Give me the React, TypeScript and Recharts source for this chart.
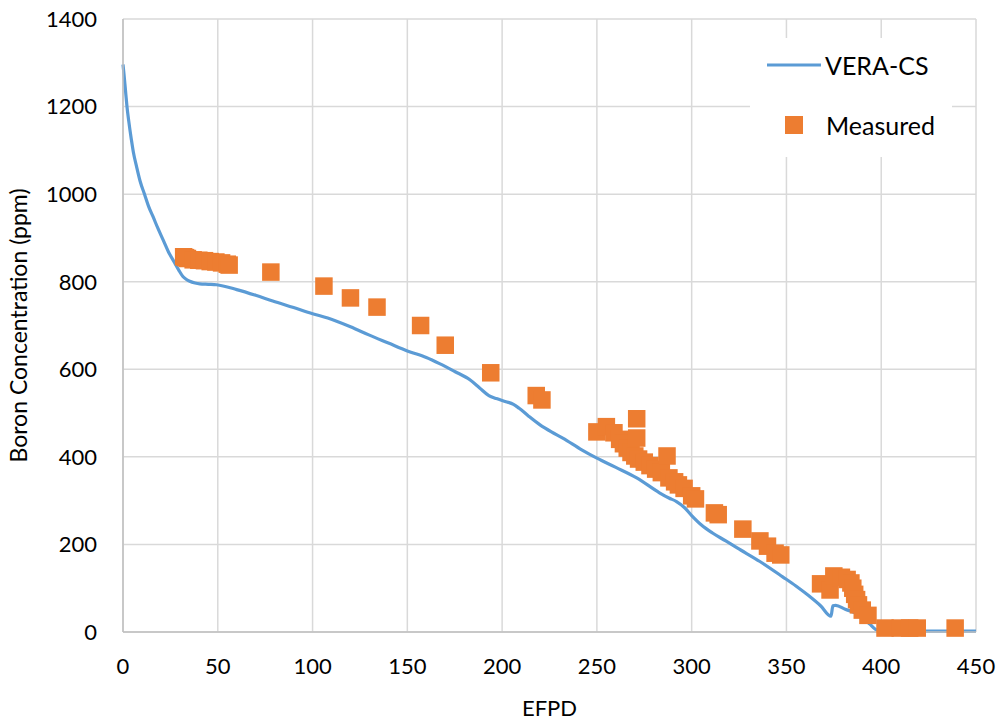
import React from "react";
import {
  ComposedChart,
  Line,
  Scatter,
  XAxis,
  YAxis,
  CartesianGrid,
  Legend,
} from "recharts";

const X_TICKS = [0, 50, 100, 150, 200, 250, 300, 350, 400, 450];
const Y_TICKS = [0, 200, 400, 600, 800, 1000, 1200, 1400];

// VERA-CS predicted boron letdown curve
const veraEfpd = [
  0, 0.5, 1, 1.5, 2.1, 3, 4.4, 5.5, 7.1, 9, 11.4, 13.5, 15.8, 18.5, 21.1, 24,
  27.3, 29.5, 31.6, 33.5, 35.2, 38, 40.5, 45, 49.3, 60, 70, 79, 90, 100, 108, 120,
  130, 140, 150, 160, 167, 175, 183, 188, 193, 197, 202, 206, 209, 214, 220, 226,
  232, 242, 250, 260, 271, 283, 288, 292, 296, 300, 305, 311, 318, 324, 336, 348,
  355, 362, 368, 373.5, 374.5, 376, 381, 387, 390, 394, 397, 400, 420, 450,
];
const veraBoron = [
  1296, 1275, 1252, 1228, 1200, 1168, 1125, 1095, 1064, 1030, 999, 972, 949, 921,
  896, 868, 843, 826, 812, 805, 801, 797, 795, 794, 793, 782, 769, 756, 741, 727,
  717, 697, 678, 660, 642, 627, 613, 595, 576, 558, 540, 533, 526, 520, 511, 493,
  473, 457, 443, 416, 397, 376, 352, 318, 306, 298, 285, 266, 245, 226, 208, 192,
  161, 126, 105, 82, 60, 36, 60, 61, 52, 42, 33, 18, 6, 2, 2, 2,
];

// Measured critical boron concentration
const measuredEfpd = [
  32, 33, 34, 37, 40, 43, 46, 49, 52, 55, 56, 78, 106, 120, 134, 157, 170, 194,
  218, 221, 250, 255, 259, 262, 264, 266, 268, 270, 271, 271, 272, 275, 278, 281,
  284, 287, 288, 291, 293, 296, 300, 302, 312, 314, 327, 336, 340, 344, 347, 368,
  373, 375, 379, 382, 384, 385, 386, 387, 388, 390, 393, 402, 410, 415, 419, 439,
];
const measuredBoron = [
  857, 855, 853, 850, 849, 848, 846, 845, 843, 840, 838, 822, 790, 763, 742, 700,
  655, 592, 540, 530, 457, 469, 455, 440, 430, 420, 410, 402, 487, 443, 395, 388,
  380, 372, 364, 402, 352, 343, 336, 328, 311, 304, 272, 268, 235, 208, 196, 180,
  176, 110, 96, 128, 125, 120, 112, 100, 86, 74, 62, 50, 38, 9, 9, 9, 9, 9,
];

const veraData = veraEfpd.map((x, i) => ({ x, y: veraBoron[i] }));
const measuredData = measuredEfpd.map((x, i) => ({ x, y: measuredBoron[i] }));

const LINE_COLOR = "#5B9BD5";
const MARKER_COLOR = "#ED7D31";
const FONT = "Lato, 'Open Sans', sans-serif";

const SquareMarker = (props: { cx?: number; cy?: number }) => {
  const { cx, cy } = props;
  if (cx == null || cy == null) return null;
  return (
    <rect x={cx - 8.75} y={cy - 8.75} width={17.5} height={17.5} fill={MARKER_COLOR} />
  );
};

const renderLegend = () => (
  <svg width={202} height={119} style={{ background: "#fff", display: "block" }}>
    <rect x={0} y={0} width={202} height={119} fill="#fff" />
    <line x1={17} y1={27} x2={71} y2={27} stroke={LINE_COLOR} strokeWidth={3} />
    <text x={75} y={27} dominantBaseline="central" fontSize={25} fill="#000">
      VERA-CS
    </text>
    <rect x={35} y={78} width={18} height={18} fill={MARKER_COLOR} />
    <text x={76} y={87} dominantBaseline="central" fontSize={25} fill="#000">
      Measured
    </text>
  </svg>
);

export default function App() {
  return (
    <div
      style={{
        position: "absolute",
        left: 0,
        top: 0,
        width: 1005,
        height: 723,
        background: "#fff",
        fontFamily: FONT,
      }}
    >
      <ComposedChart
        width={1005}
        height={723}
        margin={{ top: 19, right: 29, bottom: 0, left: 0 }}
      >
        <CartesianGrid stroke="#D9D9D9" strokeWidth={1.5} />
        <XAxis
          type="number"
          dataKey="x"
          domain={[0, 450]}
          ticks={X_TICKS}
          interval={0}
          height={91}
          tickSize={0}
          tickMargin={26}
          axisLine={{ stroke: "#BFBFBF", strokeWidth: 1.5 }}
          tick={{ fill: "#000", fontSize: 22 }}
          label={{
            value: "EFPD",
            position: "insideBottom",
            offset: 7,
            fill: "#000",
            fontSize: 22,
          }}
        />
        <YAxis
          type="number"
          dataKey="y"
          domain={[0, 1400]}
          ticks={Y_TICKS}
          interval={0}
          width={123}
          tickSize={0}
          tickMargin={26}
          axisLine={{ stroke: "#BFBFBF", strokeWidth: 1.5 }}
          tick={{ fill: "#000", fontSize: 22 }}
          label={{
            value: "Boron Concentration (ppm)",
            angle: -90,
            position: "insideLeft",
            offset: 19,
            fill: "#000",
            fontSize: 23,
            style: { textAnchor: "middle" },
          }}
        />
        <Line
          data={veraData}
          dataKey="y"
          name="VERA-CS"
          type="monotone"
          stroke={LINE_COLOR}
          strokeWidth={3.2}
          dot={false}
          activeDot={false}
          isAnimationActive={false}
        />
        <Scatter
          data={measuredData}
          dataKey="y"
          name="Measured"
          fill={MARKER_COLOR}
          shape={SquareMarker}
          isAnimationActive={false}
        />
        <Legend
          layout="vertical"
          align="center"
          verticalAlign="middle"
          width={202}
          height={119}
          content={renderLegend}
          wrapperStyle={{ left: 750, top: 38, width: 202, height: 119 }}
        />
      </ComposedChart>
    </div>
  );
}
